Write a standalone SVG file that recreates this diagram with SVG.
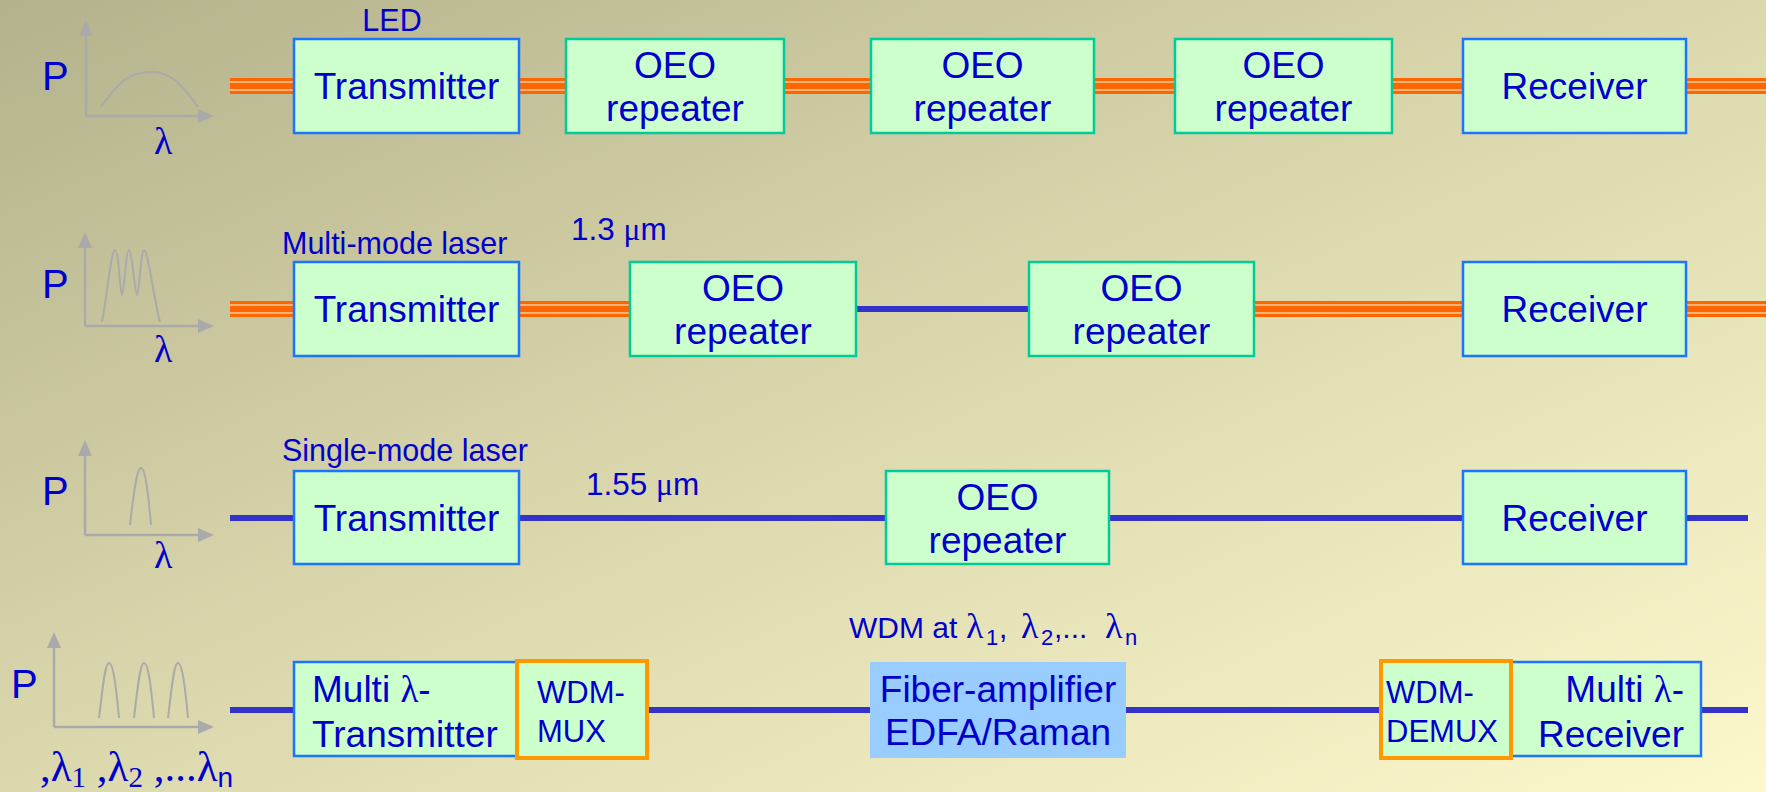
<svg xmlns="http://www.w3.org/2000/svg" width="1766" height="792" viewBox="0 0 1766 792">
<defs>
<linearGradient id="bg" x1="0" y1="0" x2="1" y2="1">
<stop offset="0" stop-color="#b3b28c"/>
<stop offset="0.5" stop-color="#dcd8ae"/>
<stop offset="1" stop-color="#fcf8cc"/>
</linearGradient>
<style>
.t{font-family:"Liberation Sans",Arial,sans-serif;fill:#0000cc}
.big{font-size:37px}
.lab{font-size:30.5px}
.wl{font-size:31.5px}
.sm{font-size:31px}
.sym{font-family:"Liberation Serif","Times New Roman",serif}
.box{fill:#ccffcc;stroke-width:2.5}
.tr{stroke:#1a75ff}
.oeo{stroke:#00cc99}
.wdm{fill:#ccffcc;stroke:#ff9900;stroke-width:4}
.amp{fill:#99ccff}
.ax{stroke:#aaaaaa;stroke-width:2.5;fill:none}
.ah{fill:#aaaaaa}
.cv{stroke:#aaaaaa;stroke-width:2;fill:none}
.fb{stroke:#3333cc;stroke-width:6}
.fo0{stroke:#f5b27a;stroke-width:16}
.fo1{stroke:#ff6600;stroke-width:3}
.fo2{stroke:#ff6600;stroke-width:6}
</style>
</defs>
<rect x="0" y="0" width="1766" height="792" fill="url(#bg)"/>

<!-- spectra -->
<g id="spectrum1">
<text class="t" x="42" y="90" font-size="40">P</text>
<path class="ax" d="M86,116 V32 M86,116 H200"/>
<path class="ah" d="M86,20 L79,36 L93,36 z M214,116 L198,109 L198,123 z"/>
<path class="cv" d="M101,107 C120,80 130,72 151,72 C172,72 182,85 198,107"/>
<text class="t sym" x="154" y="154" font-size="38">λ</text>
</g>
<g id="spectrum2">
<text class="t" x="42" y="298" font-size="40">P</text>
<path class="ax" d="M85,326 V244 M85,326 H201"/>
<path class="ah" d="M85,232 L78,248 L92,248 z M214,326 L198,319 L198,333 z"/>
<path class="cv" d="M102,322 C108,290 111,250 115,250 C119,250 120,295 122,295 C124,295 126,250 129,250 C132,250 135,295 137,295 C139,295 141,250 144,250 C148,250 154,300 160,322"/>
<text class="t sym" x="154" y="362" font-size="38">λ</text>
</g>
<g id="spectrum3">
<text class="t" x="42" y="505" font-size="40">P</text>
<path class="ax" d="M85,535 V452 M85,535 H201"/>
<path class="ah" d="M85,440 L78,456 L92,456 z M214,535 L198,528 L198,542 z"/>
<path class="cv" d="M130,525 C134,490 137,468 141,468 C145,468 148,490 151,525"/>
<text class="t sym" x="154" y="568" font-size="38">λ</text>
</g>
<g id="spectrum4">
<text class="t" x="11" y="698" font-size="40">P</text>
<path class="ax" d="M54,727 V644 M54,727 H201"/>
<path class="ah" d="M54,632 L47,648 L61,648 z M214,727 L198,720 L198,734 z"/>
<path class="cv" d="M99,718 C103,685 105,663 109,663 C113,663 116,685 119,718 M134,718 C138,685 140,663 144,663 C148,663 151,685 154,718 M168,718 C172,685 174,663 178,663 C182,663 185,685 188,718"/>
<text class="t sym" x="40" y="781" font-size="43">,λ<tspan font-size="29" dy="6">1</tspan><tspan dy="-6"> ,λ</tspan><tspan font-size="29" dy="6">2</tspan><tspan dy="-6"> ,...λ</tspan><tspan font-size="28" dy="6" font-family="Liberation Sans, Arial, sans-serif">n</tspan></text>
</g>

<!-- connectors -->
<g id="connectors">
<g id="orange-fibers">
<path class="fo0" d="M230,86 H294 M519,86 H566 M784,86 H871 M1094,86 H1175 M1392,86 H1463 M1686,86 H1766 M230,309 H294 M519,309 H630 M1254,309 H1463 M1686,309 H1766"/>
<path class="fo1" d="M230,79.5 H294 M519,79.5 H566 M784,79.5 H871 M1094,79.5 H1175 M1392,79.5 H1463 M1686,79.5 H1766 M230,302.5 H294 M519,302.5 H630 M1254,302.5 H1463 M1686,302.5 H1766"/>
<path class="fo2" d="M230,86 H294 M519,86 H566 M784,86 H871 M1094,86 H1175 M1392,86 H1463 M1686,86 H1766 M230,309 H294 M519,309 H630 M1254,309 H1463 M1686,309 H1766"/>
<path class="fo1" d="M230,92.5 H294 M519,92.5 H566 M784,92.5 H871 M1094,92.5 H1175 M1392,92.5 H1463 M1686,92.5 H1766 M230,315.5 H294 M519,315.5 H630 M1254,315.5 H1463 M1686,315.5 H1766"/>
</g>
<path class="fb" d="M856,309 H1029"/>
<path class="fb" d="M230,518 H1748"/>
<path class="fb" d="M230,710 H1748"/>
</g>

<!-- row 1 -->
<g id="r1-tx"><rect class="box tr" x="294" y="39" width="225" height="94"/><text class="t big" x="406.5" y="99" text-anchor="middle">Transmitter</text></g>
<text id="r1-led" class="t lab" x="392" y="31" text-anchor="middle">LED</text>
<g id="r1-oeo1"><rect class="box oeo" x="566" y="39" width="218" height="94"/><text class="t big" x="675" y="78" text-anchor="middle">OEO</text><text class="t big" x="675" y="121" text-anchor="middle">repeater</text></g>
<g id="r1-oeo2"><rect class="box oeo" x="871" y="39" width="223" height="94"/><text class="t big" x="982.5" y="78" text-anchor="middle">OEO</text><text class="t big" x="982.5" y="121" text-anchor="middle">repeater</text></g>
<g id="r1-oeo3"><rect class="box oeo" x="1175" y="39" width="217" height="94"/><text class="t big" x="1283.5" y="78" text-anchor="middle">OEO</text><text class="t big" x="1283.5" y="121" text-anchor="middle">repeater</text></g>
<g id="r1-rx"><rect class="box tr" x="1463" y="39" width="223" height="94"/><text class="t big" x="1574.5" y="99" text-anchor="middle">Receiver</text></g>

<!-- row 2 -->
<text id="r2-label" class="t lab" x="282" y="254">Multi-mode laser</text>
<text id="r2-wl" class="t wl" x="571" y="240">1.3 <tspan class="sym">μ</tspan>m</text>
<g id="r2-tx"><rect class="box tr" x="294" y="262" width="225" height="94"/><text class="t big" x="406.5" y="322" text-anchor="middle">Transmitter</text></g>
<g id="r2-oeo1"><rect class="box oeo" x="630" y="262" width="226" height="94"/><text class="t big" x="743" y="301" text-anchor="middle">OEO</text><text class="t big" x="743" y="344" text-anchor="middle">repeater</text></g>
<g id="r2-oeo2"><rect class="box oeo" x="1029" y="262" width="225" height="94"/><text class="t big" x="1141.5" y="301" text-anchor="middle">OEO</text><text class="t big" x="1141.5" y="344" text-anchor="middle">repeater</text></g>
<g id="r2-rx"><rect class="box tr" x="1463" y="262" width="223" height="94"/><text class="t big" x="1574.5" y="322" text-anchor="middle">Receiver</text></g>

<!-- row 3 -->
<text id="r3-label" class="t lab" x="282" y="461">Single-mode laser</text>
<text id="r3-wl" class="t wl" x="586" y="495">1.55 <tspan class="sym">μ</tspan>m</text>
<g id="r3-tx"><rect class="box tr" x="294" y="471" width="225" height="93"/><text class="t big" x="406.5" y="531" text-anchor="middle">Transmitter</text></g>
<g id="r3-oeo"><rect class="box oeo" x="886" y="471" width="223" height="93"/><text class="t big" x="997.5" y="510" text-anchor="middle">OEO</text><text class="t big" x="997.5" y="553" text-anchor="middle">repeater</text></g>
<g id="r3-rx"><rect class="box tr" x="1463" y="471" width="223" height="93"/><text class="t big" x="1574.5" y="531" text-anchor="middle">Receiver</text></g>

<!-- row 4 -->
<text id="r4-label" class="t" font-size="30" y="638"><tspan x="849">WDM at</tspan><tspan class="sym" font-size="36" x="966">λ</tspan><tspan font-size="22" x="986" dy="7">1</tspan><tspan x="999" dy="-7">,</tspan><tspan class="sym" font-size="36" x="1021">λ</tspan><tspan font-size="22" x="1041" dy="7">2</tspan><tspan x="1054" dy="-7">,...</tspan><tspan class="sym" font-size="36" x="1105">λ</tspan><tspan font-size="22" x="1125" dy="7">n</tspan></text>
<g id="r4-tx"><rect class="box tr" x="294" y="662" width="223" height="94"/><text class="t big" x="312" y="702">Multi <tspan class="sym">λ</tspan>-</text><text class="t big" x="312" y="747">Transmitter</text></g>
<g id="r4-mux"><rect class="wdm" x="517" y="661" width="130" height="97"/><text class="t sm" x="537" y="703">WDM-</text><text class="t sm" x="537" y="742">MUX</text></g>
<g id="r4-amp"><rect class="amp" x="870" y="662" width="256" height="96"/><text class="t big" x="998" y="702" text-anchor="middle">Fiber-amplifier</text><text class="t big" x="998" y="745" text-anchor="middle">EDFA/Raman</text></g>
<g id="r4-rx"><rect class="box tr" x="1510" y="662" width="191" height="94"/><text class="t big" x="1684" y="702" text-anchor="end">Multi <tspan class="sym">λ</tspan>-</text><text class="t big" x="1684" y="747" text-anchor="end">Receiver</text></g>
<g id="r4-demux"><rect class="wdm" x="1381" y="661" width="130" height="97"/><text class="t sm" x="1386" y="703">WDM-</text><text class="t sm" x="1386" y="742">DEMUX</text></g>
</svg>
